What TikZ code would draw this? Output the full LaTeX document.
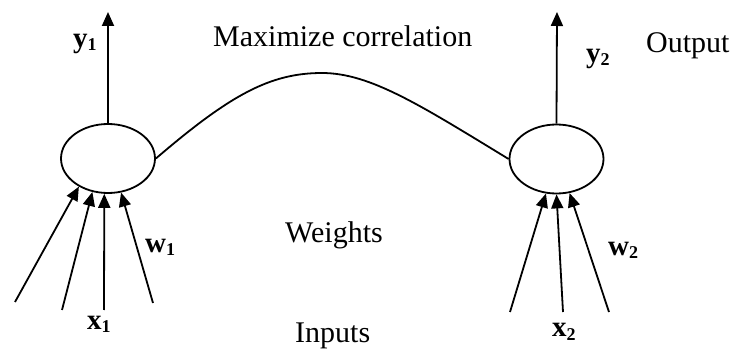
\documentclass[tikz,border=0pt]{standalone}
\usepackage{fontspec}
\setmainfont{Liberation Serif}
\usetikzlibrary{shapes.geometric,arrows.meta}
\newcommand{\mylbl}[2]{\textbf{#1}\raisebox{-3pt}{\fontsize{18}{18}\selectfont\bfseries #2}}
\begin{document}
\begin{tikzpicture}[x=1pt,y=-1pt,
  line/.style={line width=1.8pt},
  arr/.style={line width=1.8pt,-{Triangle[length=14pt,width=12pt]}},
  neuron/.style={ellipse,draw,line width=1.8pt,inner sep=0pt,minimum width=94pt,minimum height=69pt},
  txt/.style={anchor=base west,inner sep=0pt,font=\fontsize{30}{30}\selectfont},
  sym/.style={anchor=base west,inner sep=0pt,font=\fontsize{29}{29}\selectfont}]
\useasboundingbox (0,0) rectangle (732,350);
% neurons
\node[neuron] (L) at (108,158.5) {};
\node[neuron] (R) at (556.5,159) {};
% outputs
\coordinate (yo1) at (108,12);
\coordinate (yo2) at (557,12);
\draw[arr] (L.north) -- (yo1);
\draw[arr] (R.north) -- (yo2);
% correlation curve
\draw[line] (L.east) .. controls (230,95) and (270,73) .. (322,73)
  .. controls (370,73) and (420,105) .. (R.west);
% left inputs
\coordinate (a1) at (15,302);
\coordinate (a2) at (62,310);
\coordinate (a3) at (104,310);
\coordinate (a4) at (153,303);
\draw[arr] (a1) -- (L.224);
\draw[arr] (a2) -- (L.245);
\draw[arr] (a3) -- (L.264);
\draw[arr] (a4) -- (L.291);
% right inputs
\coordinate (b1) at (510,312);
\coordinate (b2) at (563,312);
\coordinate (b3) at (609,312);
\draw[arr] (b1) -- (R.253);
\draw[arr] (b2) -- (R.270);
\draw[arr] (b3) -- (R.291);
% labels
\node[txt] (tmax) at (213,47) {Maximize correlation};
\node[txt] (tw) at (285,243) {Weights};
\node[txt] (tin) at (295,342) {Inputs};
\node[txt] (tout) at (646,53) {Output};
\node[sym] (ly1) at (73,48) {\mylbl{y}{1}};
\node[sym] (lx1) at (87,330) {\mylbl{x}{1}};
\node[sym] (lw1) at (145,253) {\mylbl{w}{1}};
\node[sym] (ly2) at (586,63) {\mylbl{y}{2}};
\node[sym] (lw2) at (608,255) {\mylbl{w}{2}};
\node[sym] (lx2) at (552,337) {\mylbl{x}{2}};
\end{tikzpicture}
\end{document}
